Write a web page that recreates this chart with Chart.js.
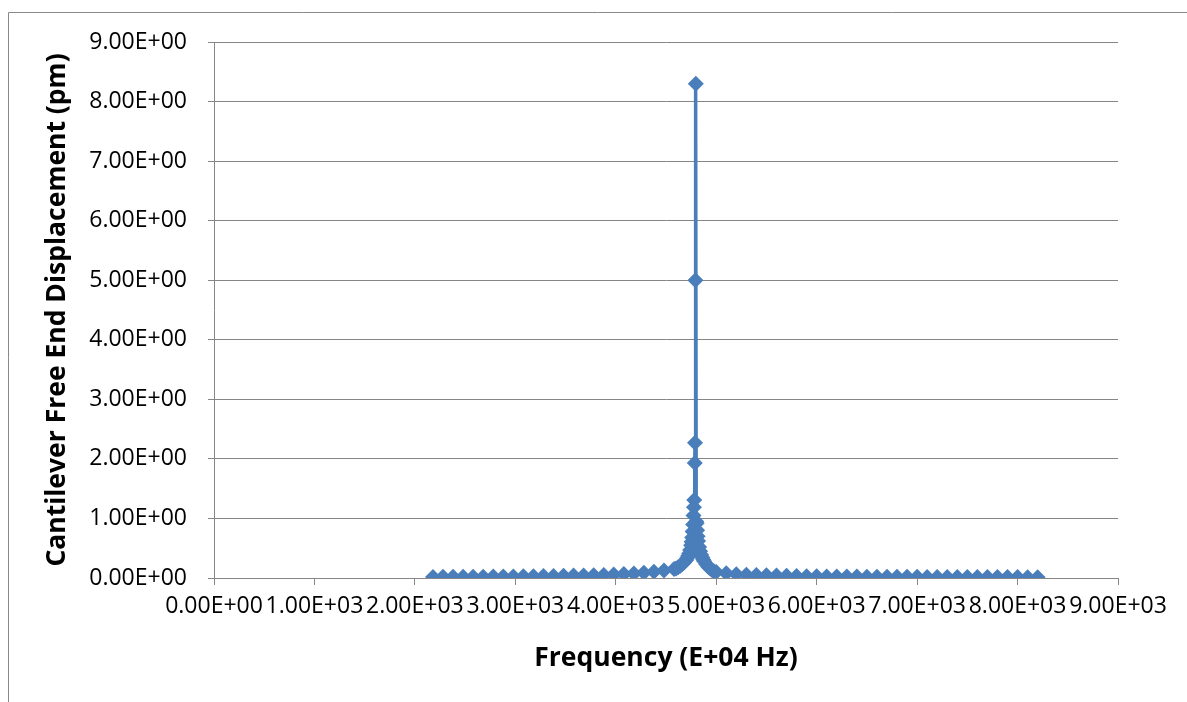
<!DOCTYPE html>
<html>
<head>
<meta charset="utf-8">
<script src="https://cdn.jsdelivr.net/npm/chart.js@4/dist/chart.umd.min.js"></script>
<style>
    body{margin:0;background:#fff;}
    #wrap{width:1187px;height:702px;position:relative;}
</style>
</head>
<body>
<div id="wrap"><canvas id="chartfreq" width="1187" height="702"></canvas></div>
<script>
// frequency (E+04 Hz) and free end displacement (pm)
var freq = [
    2180,2280,2380,2480,2580,2680,2780,2880,2980,3080,3180,3280,3380,3480,3580,3680,3780,3880,3980,4080,4180,4280,4380,4480,4580,
    4600,4620,4640,4660,4680,4700,4710,4720,4730,4740,4750,4755,4760,4765,4770,4774,4778,4781,4786,4789,4793,4797,
    4801,4805,4810,4815,4820,4830,4840,4850,4860,4870,4880,4900,4920,4940,4960,4980,
    5000,5100,5200,5300,5400,5500,5600,5700,5800,5900,6000,6100,6200,6300,6400,6500,6600,6700,6800,6900,7000,7100,7200,7300,7400,7500,7600,7700,7800,7900,8000,8100,8200
];
var disp = [
    0.018,0.019,0.020,0.021,0.022,0.023,0.024,0.025,0.027,0.028,0.030,0.032,0.034,0.037,0.040,0.043,0.047,0.052,0.058,0.066,0.075,0.088,0.105,0.125,0.150,
    0.16,0.18,0.20,0.23,0.26,0.30,0.33,0.37,0.41,0.47,0.55,0.61,0.68,0.78,0.90,1.05,1.19,1.31,1.93,2.27,5.00,8.30,
    0.95,0.92,0.80,0.70,0.62,0.52,0.45,0.39,0.35,0.31,0.28,0.23,0.19,0.16,0.13,0.11,
    0.100,0.080,0.065,0.055,0.050,0.045,0.040,0.036,0.033,0.031,0.029,0.027,0.026,0.025,0.024,0.023,0.022,0.021,0.020,0.019,0.019,0.018,0.018,0.017,0.017,0.016,0.016,0.016,0.015,0.015,0.015,0.014,0.014
];
var xTitle = "Frequency (E+04 Hz)";
var yTitle = "Cantilever Free End Displacement (pm)";

function sciLabel(v){
    if(v==0){
        return "0.00E+00";
    }
    var e = Math.floor(Math.log10(v) + 1e-9);
    var m = v / Math.pow(10, e);
    return m.toFixed(2) + "E+" + String(e).padStart(2, "0");
}

var points = [];
for(var i=0;i<freq.length;i++){
    points.push({x: freq[i], y: disp[i]});
}

//-----------------outer frame like the excel chart border
var framePlugin = {
    id: "frame",
    beforeDraw: function(chart){
        var ctx = chart.ctx;
        ctx.save();
        ctx.fillStyle = "#ffffff";
        ctx.fillRect(0, 0, chart.width, chart.height);
        ctx.strokeStyle = "#898989";
        ctx.lineWidth = 1;
        ctx.beginPath();
        ctx.moveTo(8.5, chart.height);
        ctx.lineTo(8.5, 12.5);
        ctx.lineTo(chart.width, 12.5);
        ctx.stroke();
        ctx.restore();
    }
};

var ctx_chart = document.getElementById("chartfreq").getContext("2d");
var chart = new Chart(ctx_chart, {
    type: "line",
    data: {
        datasets: [{
            label: "displacement",
            data: points,
            borderColor: "#4A7EBB",
            backgroundColor: "#4A7EBB",
            borderWidth: 3.5,
            pointStyle: "rectRot",
            pointRadius: 8,
            pointBorderWidth: 0,
            tension: 0
        }]
    },
    options: {
        responsive: false,
        animation: false,
        layout: {
            padding: {left: 0, top: 42, right: 69, bottom: 0}
        },
        plugins: {
            legend: {display: false},
            tooltip: {enabled: false}
        },
        scales: {
            x: {
                type: "linear",
                min: 0,
                max: 9000,
                afterFit: function(scale){ scale.height = 124; },
                ticks: {
                    stepSize: 1000,
                    autoSkip: false,
                    maxRotation: 0,
                    minRotation: 0,
                    padding: 8,
                    color: "#000000",
                    font: {family: "Open Sans", size: 23},
                    callback: function(v){ return sciLabel(v); }
                },
                grid: {
                    drawOnChartArea: false,
                    drawTicks: true,
                    tickLength: 7,
                    color: "#868686"
                },
                border: {color: "#868686", width: 1},
                title: {
                    display: true,
                    text: xTitle,
                    color: "#000000",
                    font: {family: "Open Sans", size: 26.5, weight: "bold"},
                    padding: {top: 0, bottom: 28}
                }
            },
            y: {
                min: 0,
                max: 9,
                afterFit: function(scale){ scale.width = 214; },
                ticks: {
                    stepSize: 1,
                    padding: 21,
                    color: "#000000",
                    font: {family: "Open Sans", size: 23},
                    callback: function(v){ return sciLabel(v); }
                },
                grid: {
                    color: "#868686",
                    tickLength: 6
                },
                border: {color: "#868686", width: 1},
                title: {
                    display: true,
                    text: yTitle,
                    color: "#000000",
                    font: {family: "Open Sans", size: 26.5, weight: "bold"},
                    padding: {top: 42, bottom: 0}
                }
            }
        }
    },
    plugins: [framePlugin]
});
</script>
</body>
</html>
